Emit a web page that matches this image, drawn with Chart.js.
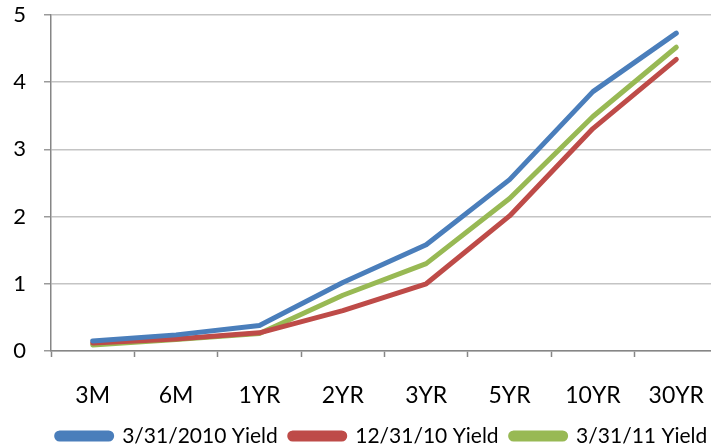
<!DOCTYPE html>
<html>
<head>
<meta charset="utf-8">
<script src="https://cdn.jsdelivr.net/npm/chart.js@4.4.0/dist/chart.umd.min.js"></script>
<style>
  html, body { margin: 0; padding: 0; background: #fff; overflow: hidden; }
  #wrap { width: 720px; height: 448px; position: relative; }
</style>
</head>
<body>
<div id="wrap"><canvas id="c"></canvas></div>
<script>
const categories = ['3M', '6M', '1YR', '2YR', '3YR', '5YR', '10YR', '30YR'];
const seriesNames = ['3/31/2010 Yield', '12/31/10 Yield', '3/31/11 Yield'];
const yield2010_03 = [0.15, 0.24, 0.38, 1.02, 1.58, 2.55, 3.86, 4.73];
const yield2010_12 = [0.12, 0.18, 0.27, 0.60, 1.00, 2.01, 3.31, 4.34];
const yield2011_03 = [0.09, 0.17, 0.26, 0.83, 1.30, 2.27, 3.49, 4.52];
const yTicks = [0, 1, 2, 3, 4, 5];

const colors = ['#4a7ebb', '#be4b48', '#98b954'];
const FONT = 'Lato';
const PLOT_BOTTOM = 351;

const legendShift = {
  id: 'legendShift',
  afterLayout(chart) {
    const lg = chart.legend;
    const dx = 23;
    const dy = 436 - (lg.top + 12 + 10.5);
    lg.left += dx;
    lg.right += dx;
    lg.top += dy;
    lg.bottom += dy;
  }
};

new Chart(document.getElementById('c'), {
  type: 'line',
  data: {
    labels: categories,
    datasets: [yield2010_03, yield2010_12, yield2011_03].map((d, i) => ({
      label: seriesNames[i],
      data: d,
      borderColor: colors[i],
      backgroundColor: colors[i],
      borderWidth: 5,
      pointRadius: 0,
      tension: 0,
      borderJoinStyle: 'round',
      borderCapStyle: 'round',
      fill: false
    }))
  },
  options: {
    responsive: true,
    maintainAspectRatio: false,
    animation: false,
    layout: { padding: { top: 15, right: 2, left: 0, bottom: 0 } },
    plugins: {
      tooltip: { enabled: false },
      legend: {
        position: 'bottom',
        labels: {
          font: { family: FONT, size: 21 },
          color: '#000',
          boxWidth: 55,
          boxHeight: 6,
          useBorderRadius: true,
          borderRadius: 3,
          padding: 12
        }
      }
    },
    scales: {
      x: {
        offset: true,
        afterFit(s) {
          const lg = s.chart.legend;
          const lh = lg && lg.height ? lg.height : 43;
          s.height = Math.max(20, 448 - lh - PLOT_BOTTOM);
          s.paddingLeft = 0;
          s.paddingRight = 0;
        },
        grid: {
          offset: true,
          drawOnChartArea: false,
          color: '#868686',
          tickLength: 6,
          tickWidth: 1.5
        },
        border: { color: '#868686', width: 1.5 },
        ticks: {
          font: { family: FONT, size: 23 },
          color: '#000',
          padding: 25,
          maxRotation: 0,
          autoSkip: false
        }
      },
      y: {
        min: 0,
        max: 5,
        afterFit(s) { s.width = 51; s.paddingTop = 0; s.paddingBottom = 0; },
        afterBuildTicks(s) { s.ticks = yTicks.map(v => ({ value: v })); },
        grid: {
          color: '#c4c4c4',
          lineWidth: 1.5,
          tickLength: 7,
          tickColor: '#9a9a9a'
        },
        border: { color: '#868686', width: 1.5 },
        ticks: {
          font: { family: FONT, size: 22 },
          color: '#000',
          padding: 18
        }
      }
    }
  },
  plugins: [legendShift]
});
</script>
</body>
</html>
